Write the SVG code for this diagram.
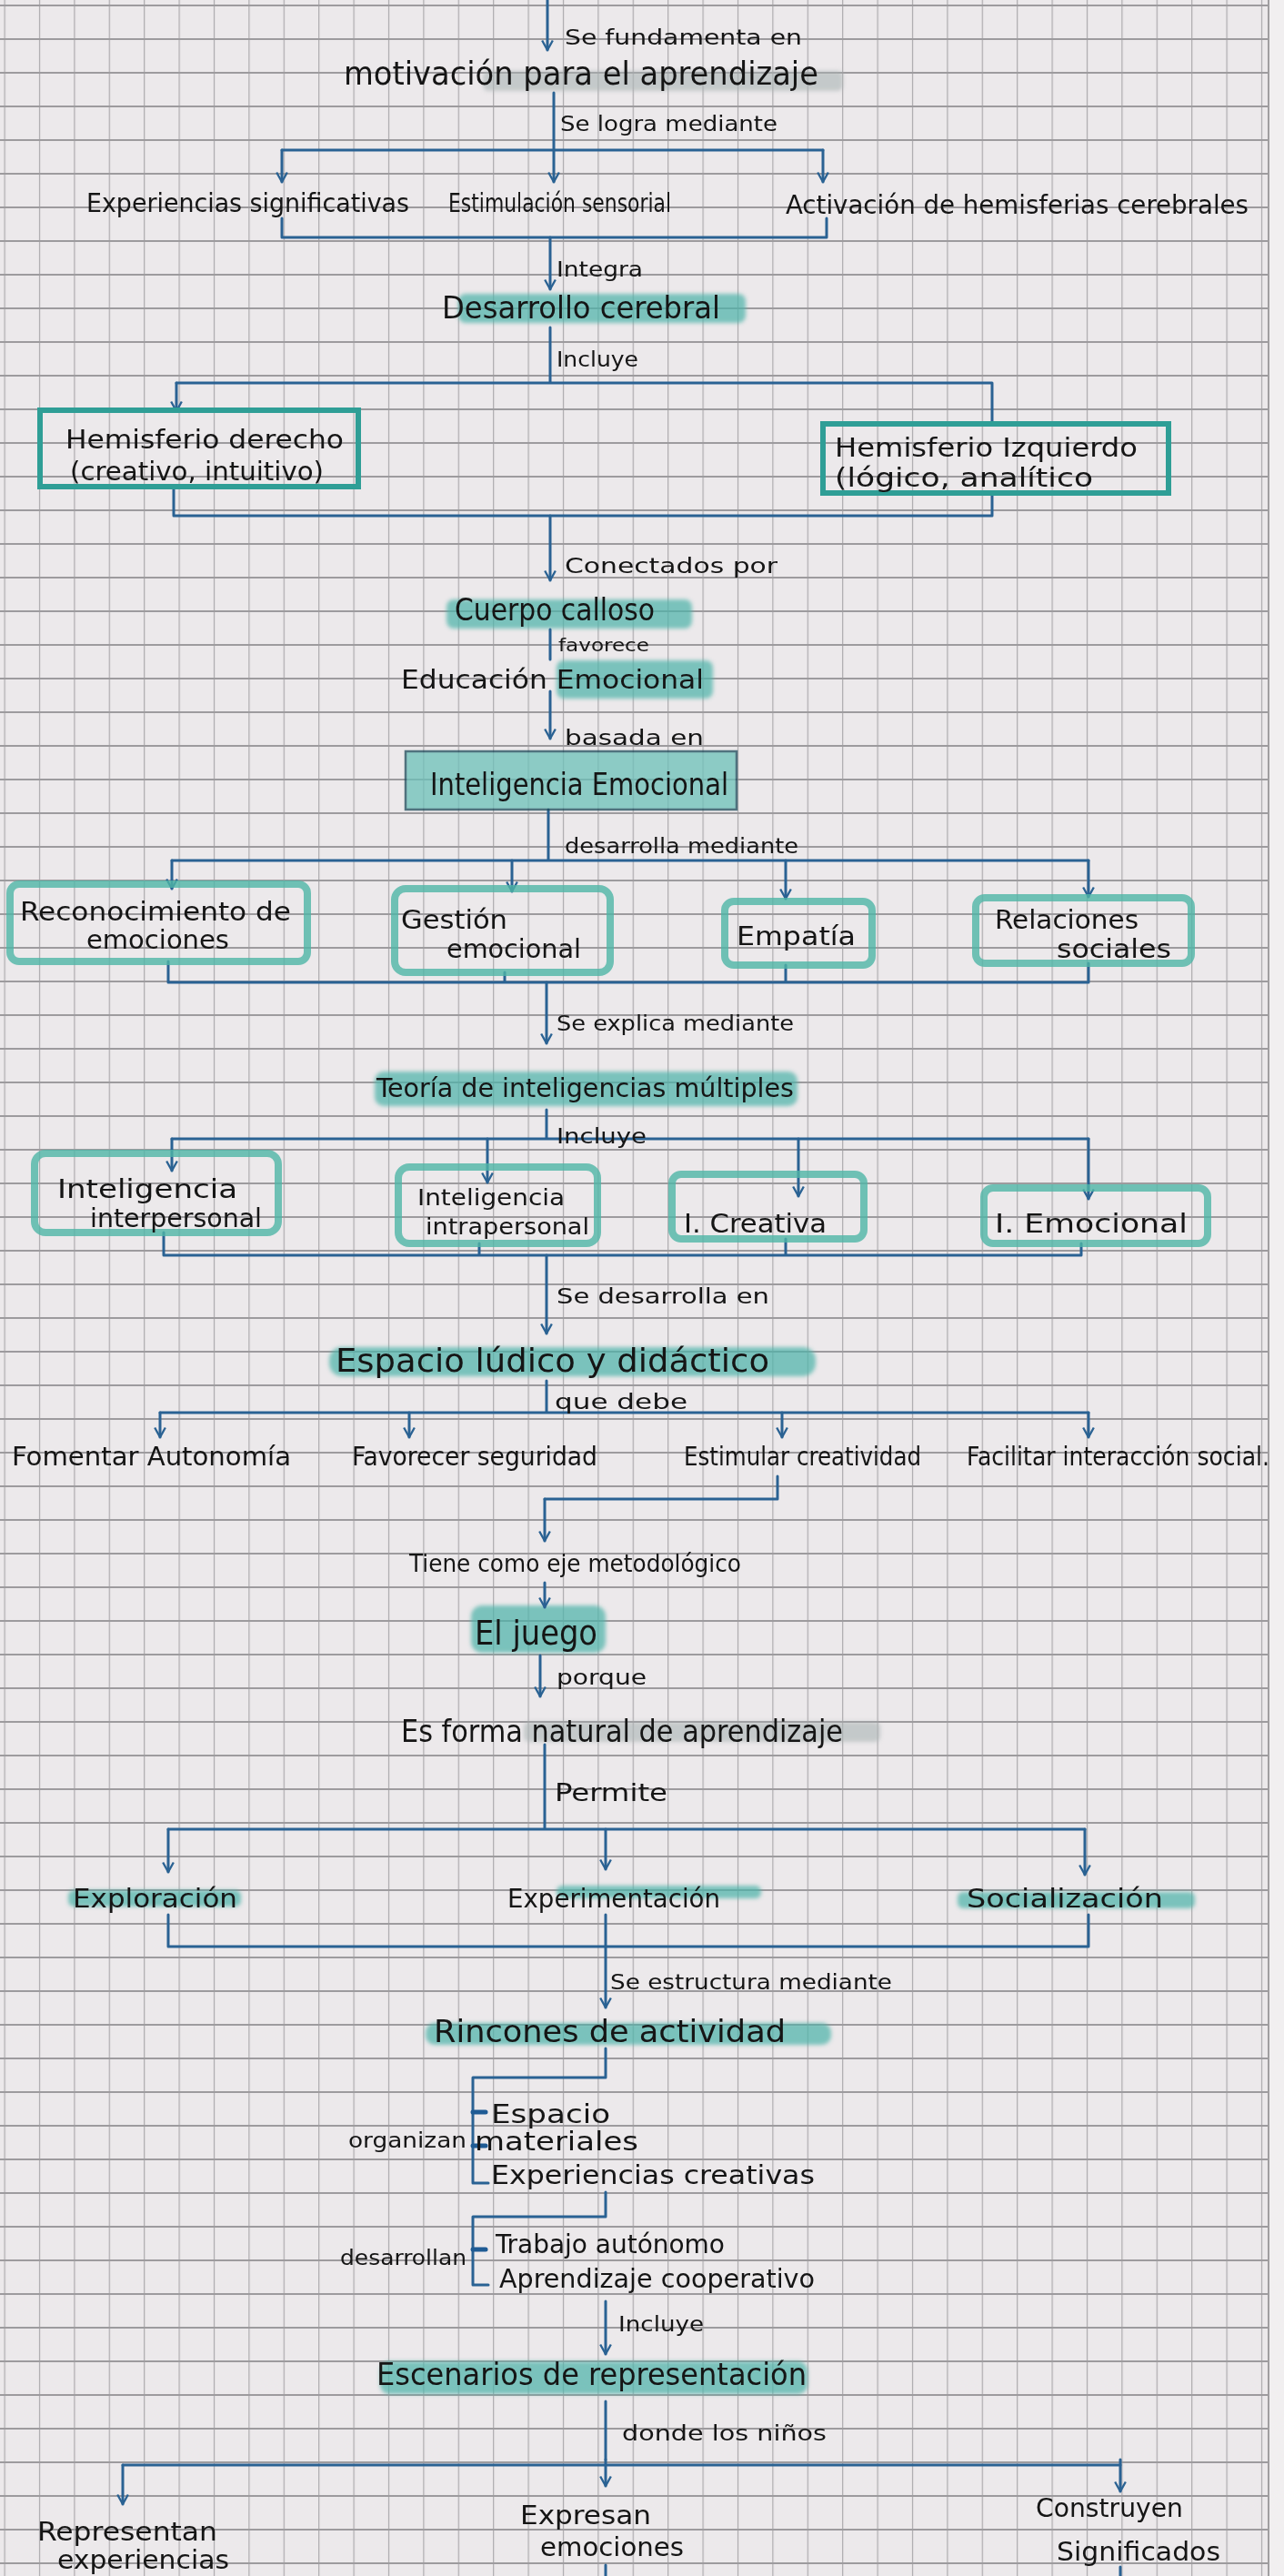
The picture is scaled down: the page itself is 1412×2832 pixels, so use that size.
<svg xmlns="http://www.w3.org/2000/svg" width="1412" height="2832" viewBox="0 0 1412 2832">
<style>
.t{font-family:"DejaVu Sans Condensed","DejaVu Sans","Liberation Sans",sans-serif;fill:#151515;}
.l{font-size:23px;}
.n{font-size:29px;}
.s{font-size:25px;}
.b{font-size:33px;}
.c{stroke:#2a6293;stroke-width:3;fill:none;stroke-linecap:round;stroke-linejoin:round;}
.a{marker-end:url(#arr);}
.hl{fill:#4fb3a9;opacity:0.72;}
.hg{fill:#aab4b4;opacity:0.6;}
.bx{fill:none;stroke:#4fb5a6;stroke-width:8;opacity:0.8;}
.bd{fill:none;stroke:#2f9e96;stroke-width:6;}
.tick{stroke:#1f5b94;stroke-width:5;}
</style>
<defs>
<pattern id="grid" patternUnits="userSpaceOnUse" width="38.4" height="37" patternTransform="translate(4.5,5)">
<rect width="38.4" height="37" fill="#ece9eb"/>
<line x1="0.6" y1="0" x2="0.6" y2="37" stroke="#acaaad" stroke-width="1.2"/>
<line x1="0" y1="1" x2="38.4" y2="1" stroke="#9d9b9e" stroke-width="1.8"/>
</pattern>
<marker id="arr" viewBox="0 0 12 12" refX="11" refY="6" markerWidth="14" markerHeight="14" markerUnits="userSpaceOnUse" orient="auto">
<path d="M2,1 L11,6 L2,11" fill="none" stroke="#2a6293" stroke-width="2"/>
</marker>
<filter id="soft" x="-5%" y="-20%" width="110%" height="140%"><feGaussianBlur stdDeviation="2"/></filter>
</defs>
<rect width="1412" height="2832" fill="url(#grid)"/>
<rect x="1395" y="0" width="17" height="2832" fill="#f1eff0"/>
<line x1="1395" y1="0" x2="1395" y2="2832" stroke="#a09ea0" stroke-width="2"/>

<g id="highlights" filter="url(#soft)">
<rect class="hg" x="531" y="78" width="396" height="22" rx="6"/>
<rect class="hl" x="504" y="323" width="316" height="32" rx="8"/>
<rect class="hl" x="491" y="659" width="270" height="32" rx="8"/>
<rect class="hl" x="612" y="726" width="172" height="42" rx="8"/>
<rect class="hl" x="412" y="1178" width="465" height="38" rx="10"/>
<rect class="hl" x="362" y="1481" width="535" height="32" rx="14"/>
<rect class="hl" x="518" y="1765" width="148" height="52" rx="12"/>
<rect class="hg" x="576" y="1893" width="392" height="22" rx="6"/>
<rect class="hl" x="75" y="2078" width="190" height="18" rx="6" opacity="0.45"/>
<rect class="hl" x="612" y="2073" width="225" height="14" rx="6" opacity="0.55"/>
<rect class="hl" x="1053" y="2080" width="261" height="18" rx="6" opacity="0.55"/>
<rect class="hl" x="468" y="2224" width="446" height="24" rx="10"/>
<rect class="hl" x="418" y="2596" width="470" height="36" rx="10"/>
</g>

<g id="connectors">
<path class="c a" d="M602,0 V55"/>
<path class="c" d="M609,102 V165 M310,165 H905"/>
<path class="c a" d="M310,165 V200"/>
<path class="c a" d="M609,165 V200"/>
<path class="c a" d="M905,165 V200"/>
<path class="c" d="M310,240 V261 H909 V240"/>
<path class="c a" d="M605,261 V318"/>
<path class="c" d="M605,360 V421 H1091 V466 M194,421 H605"/>
<path class="c a" d="M194,421 V452"/>
<path class="c" d="M191,536 V567 H1091 V542"/>
<path class="c a" d="M605,567 V638"/>
<path class="c" d="M605,692 V725"/>
<path class="c a" d="M605,760 V812"/>
<path class="c" d="M603,890 V946 M189,946 H1197"/>
<path class="c a" d="M189,946 V977"/>
<path class="c a" d="M563,946 V980"/>
<path class="c a" d="M864,946 V988"/>
<path class="c a" d="M1197,946 V986"/>
<path class="c" d="M185,1057 V1080 H1197 V1059 M555,1069 V1080 M864,1061 V1080"/>
<path class="c a" d="M601,1080 V1147"/>
<path class="c" d="M601,1220 V1252 M189,1252 H1197"/>
<path class="c a" d="M189,1252 V1287"/>
<path class="c a" d="M536,1252 V1300"/>
<path class="c a" d="M878,1252 V1315"/>
<path class="c a" d="M1197,1252 V1318"/>
<path class="c" d="M180,1355 V1380 H1189 V1367 M527,1367 V1380 M864,1362 V1380"/>
<path class="c a" d="M601,1380 V1466"/>
<path class="c" d="M601,1518 V1553 M176,1553 H1197"/>
<path class="c a" d="M176,1553 V1580"/>
<path class="c a" d="M450,1553 V1580"/>
<path class="c a" d="M860,1553 V1580"/>
<path class="c a" d="M1197,1553 V1580"/>
<path class="c" d="M855,1623 V1648 H599"/>
<path class="c a" d="M599,1648 V1694"/>
<path class="c a" d="M599,1740 V1767"/>
<path class="c a" d="M594,1820 V1865"/>
<path class="c" d="M599,1918 V2011 M185,2011 H1193"/>
<path class="c a" d="M185,2011 V2058"/>
<path class="c a" d="M666,2011 V2055"/>
<path class="c a" d="M1193,2011 V2061"/>
<path class="c" d="M185,2105 V2140 H1197 V2105 M666,2105 V2140"/>
<path class="c a" d="M666,2140 V2207"/>
<path class="c" d="M666,2252 V2284 H520 V2400 H537"/>
<path class="c tick" d="M520,2322 H534 M520,2359 H534"/>
<path class="c" d="M666,2410 V2437 H520 V2512 H537"/>
<path class="c tick" d="M520,2473 H534"/>
<path class="c a" d="M666,2530 V2588"/>
<path class="c" d="M666,2640 V2704 M135,2710 H1232"/>
<path class="c a" d="M135,2710 V2753"/>
<path class="c a" d="M666,2704 V2733"/>
<path class="c a" d="M1232,2704 V2739"/>
<path class="c" d="M666,2820 V2832 M1232,2822 V2832"/>
</g>

<g id="labels">
<text class="t l" x="621" y="49" textLength="261" lengthAdjust="spacingAndGlyphs">Se fundamenta en</text>
<text class="t l" x="616" y="144" textLength="239" lengthAdjust="spacingAndGlyphs">Se logra mediante</text>
<text class="t l" x="612" y="304" textLength="95" lengthAdjust="spacingAndGlyphs">Integra</text>
<text class="t l" x="612" y="403" textLength="90" lengthAdjust="spacingAndGlyphs">Incluye</text>
<text class="t l" x="621" y="630" textLength="234" lengthAdjust="spacingAndGlyphs">Conectados por</text>
<text class="t l" x="614" y="716" style="font-size:19px" textLength="100" lengthAdjust="spacingAndGlyphs">favorece</text>
<text class="t l" x="621" y="819" textLength="153" lengthAdjust="spacingAndGlyphs">basada en</text>
<text class="t l" x="621" y="938" textLength="257" lengthAdjust="spacingAndGlyphs">desarrolla mediante</text>
<text class="t l" x="612" y="1133" textLength="261" lengthAdjust="spacingAndGlyphs">Se explica mediante</text>
<text class="t l" x="612" y="1257" textLength="99" lengthAdjust="spacingAndGlyphs">Incluye</text>
<text class="t l" x="612" y="1433" textLength="234" lengthAdjust="spacingAndGlyphs">Se desarrolla en</text>
<text class="t l" x="610" y="1549" textLength="146" lengthAdjust="spacingAndGlyphs">que debe</text>
<text class="t l" x="612" y="1852" textLength="99" lengthAdjust="spacingAndGlyphs">porque</text>
<text class="t l" x="610" y="1980" style="font-size:26px" textLength="124" lengthAdjust="spacingAndGlyphs">Permite</text>
<text class="t l" x="671" y="2187" textLength="310" lengthAdjust="spacingAndGlyphs">Se estructura mediante</text>
<text class="t l" x="383" y="2361" textLength="130" lengthAdjust="spacingAndGlyphs">organizan</text>
<text class="t l" x="374" y="2490" textLength="139" lengthAdjust="spacingAndGlyphs">desarrollan</text>
<text class="t l" x="680" y="2563" textLength="94" lengthAdjust="spacingAndGlyphs">Incluye</text>
<text class="t l" x="684" y="2683" textLength="225" lengthAdjust="spacingAndGlyphs">donde los niños</text>
</g>

<g id="n-motivacion"><text class="t b" x="378" y="93" style="font-size:35px" textLength="522" lengthAdjust="spacingAndGlyphs">motivación para el aprendizaje</text></g>
<g id="n-experiencias"><text class="t n" x="95" y="233" textLength="355" lengthAdjust="spacingAndGlyphs">Experiencias significativas</text></g>
<g id="n-estimulacion"><text class="t n" x="493" y="233" textLength="245" lengthAdjust="spacingAndGlyphs">Estimulación sensorial</text></g>
<g id="n-activacion"><text class="t n" x="864" y="235" textLength="509" lengthAdjust="spacingAndGlyphs">Activación de hemisferias cerebrales</text></g>
<g id="n-desarrollo"><text class="t b" x="486" y="350" textLength="306" lengthAdjust="spacingAndGlyphs">Desarrollo cerebral</text></g>
<g id="n-hderecho">
<rect class="bd" x="44" y="451" width="350" height="84"/>
<text class="t n" x="72" y="493" textLength="306" lengthAdjust="spacingAndGlyphs">Hemisferio derecho</text>
<text class="t n" x="77" y="528" textLength="279" lengthAdjust="spacingAndGlyphs">(creativo, intuitivo)</text>
</g>
<g id="n-hizquierdo">
<rect class="bd" x="905" y="466" width="380" height="76"/>
<text class="t n" x="918" y="502" textLength="333" lengthAdjust="spacingAndGlyphs">Hemisferio Izquierdo</text>
<text class="t n" x="918" y="535" textLength="284" lengthAdjust="spacingAndGlyphs">(lógico, analítico</text>
</g>
<g id="n-cuerpo"><text class="t b" x="500" y="682" textLength="220" lengthAdjust="spacingAndGlyphs">Cuerpo calloso</text></g>
<g id="n-educacion"><text class="t n" x="441" y="757" textLength="333" lengthAdjust="spacingAndGlyphs">Educación Emocional</text></g>
<g id="n-ie">
<rect x="446" y="826" width="364" height="64" fill="#6cc0b8" opacity="0.75" stroke="#1d4a5a" stroke-width="2.5"/>
<text class="t b" x="473" y="874" textLength="328" lengthAdjust="spacingAndGlyphs">Inteligencia Emocional</text>
</g>
<g id="n-reconocimiento">
<rect class="bx" x="11" y="972" width="327" height="85" rx="10"/>
<text class="t n" x="22" y="1012" textLength="298" lengthAdjust="spacingAndGlyphs">Reconocimiento de</text>
<text class="t n" x="95" y="1043" textLength="157" lengthAdjust="spacingAndGlyphs">emociones</text>
</g>
<g id="n-gestion">
<rect class="bx" x="434" y="977" width="237" height="92" rx="12"/>
<text class="t n" x="441" y="1021" textLength="117" lengthAdjust="spacingAndGlyphs">Gestión</text>
<text class="t n" x="491" y="1053" textLength="148" lengthAdjust="spacingAndGlyphs">emocional</text>
</g>
<g id="n-empatia">
<rect class="bx" x="797" y="991" width="162" height="70" rx="10"/>
<text class="t n" x="810" y="1039" textLength="131" lengthAdjust="spacingAndGlyphs">Empatía</text>
</g>
<g id="n-relaciones">
<rect class="bx" x="1073" y="987" width="237" height="72" rx="10"/>
<text class="t n" x="1094" y="1021" textLength="158" lengthAdjust="spacingAndGlyphs">Relaciones</text>
<text class="t n" x="1162" y="1053" textLength="126" lengthAdjust="spacingAndGlyphs">sociales</text>
</g>
<g id="n-teoria"><text class="t n" x="414" y="1206" textLength="459" lengthAdjust="spacingAndGlyphs">Teoría de inteligencias múltiples</text></g>
<g id="n-interpersonal">
<rect class="bx" x="38" y="1268" width="268" height="87" rx="12"/>
<text class="t n" x="63" y="1317" textLength="198" lengthAdjust="spacingAndGlyphs">Inteligencia</text>
<text class="t n" x="99" y="1349" textLength="189" lengthAdjust="spacingAndGlyphs">interpersonal</text>
</g>
<g id="n-intrapersonal">
<rect class="bx" x="438" y="1283" width="219" height="84" rx="12"/>
<text class="t s" x="459" y="1325" textLength="162" lengthAdjust="spacingAndGlyphs">Inteligencia</text>
<text class="t s" x="468" y="1357" textLength="180" lengthAdjust="spacingAndGlyphs">intrapersonal</text>
</g>
<g id="n-creativa">
<rect class="bx" x="739" y="1291" width="211" height="71" rx="10"/>
<text class="t n" x="752" y="1355" textLength="157" lengthAdjust="spacingAndGlyphs">I. Creativa</text>
</g>
<g id="n-iemocional">
<rect class="bx" x="1082" y="1306" width="246" height="61" rx="10"/>
<text class="t n" x="1094" y="1355" textLength="212" lengthAdjust="spacingAndGlyphs">I. Emocional</text>
</g>
<g id="n-espacio"><text class="t b" x="369" y="1508" style="font-size:35px" textLength="477" lengthAdjust="spacingAndGlyphs">Espacio lúdico y didáctico</text></g>
<g id="n-fomentar"><text class="t n" x="13" y="1611" textLength="307" lengthAdjust="spacingAndGlyphs">Fomentar Autonomía</text></g>
<g id="n-favorecer"><text class="t n" x="387" y="1611" textLength="270" lengthAdjust="spacingAndGlyphs">Favorecer seguridad</text></g>
<g id="n-estimular"><text class="t n" x="752" y="1611" textLength="261" lengthAdjust="spacingAndGlyphs">Estimular creatividad</text></g>
<g id="n-facilitar"><text class="t n" x="1063" y="1611" textLength="333" lengthAdjust="spacingAndGlyphs">Facilitar interacción social.</text></g>
<g id="n-tiene"><text class="t n" x="450" y="1728" style="font-size:27px" textLength="365" lengthAdjust="spacingAndGlyphs">Tiene como eje metodológico</text></g>
<g id="n-juego"><text class="t b" x="522" y="1808" style="font-size:38px" textLength="135" lengthAdjust="spacingAndGlyphs">El juego</text></g>
<g id="n-forma"><text class="t b" x="441" y="1915" textLength="486" lengthAdjust="spacingAndGlyphs">Es forma natural de aprendizaje</text></g>
<g id="n-exploracion"><text class="t n" x="80" y="2097" textLength="181" lengthAdjust="spacingAndGlyphs">Exploración</text></g>
<g id="n-experimentacion"><text class="t n" x="558" y="2097" textLength="234" lengthAdjust="spacingAndGlyphs">Experimentación</text></g>
<g id="n-socializacion"><text class="t n" x="1063" y="2097" textLength="216" lengthAdjust="spacingAndGlyphs">Socialización</text></g>
<g id="n-rincones"><text class="t b" x="477" y="2245" textLength="387" lengthAdjust="spacingAndGlyphs">Rincones de actividad</text></g>
<g id="n-espacio2"><text class="t n" x="540" y="2334" textLength="131" lengthAdjust="spacingAndGlyphs">Espacio</text></g>
<g id="n-materiales"><text class="t n" x="522" y="2364" textLength="180" lengthAdjust="spacingAndGlyphs">materiales</text></g>
<g id="n-expcreativas"><text class="t n" x="540" y="2401" textLength="356" lengthAdjust="spacingAndGlyphs">Experiencias creativas</text></g>
<g id="n-trabajo"><text class="t n" x="545" y="2477" textLength="252" lengthAdjust="spacingAndGlyphs">Trabajo autónomo</text></g>
<g id="n-aprendizaje"><text class="t n" x="549" y="2515" textLength="347" lengthAdjust="spacingAndGlyphs">Aprendizaje cooperativo</text></g>
<g id="n-escenarios"><text class="t b" x="414" y="2622" textLength="473" lengthAdjust="spacingAndGlyphs">Escenarios de representación</text></g>
<g id="n-representan">
<text class="t n" x="41" y="2793" textLength="198" lengthAdjust="spacingAndGlyphs">Representan</text>
<text class="t n" x="63" y="2824" textLength="189" lengthAdjust="spacingAndGlyphs">experiencias</text>
</g>
<g id="n-expresan">
<text class="t n" x="572" y="2775" textLength="144" lengthAdjust="spacingAndGlyphs">Expresan</text>
<text class="t n" x="594" y="2810" textLength="158" lengthAdjust="spacingAndGlyphs">emociones</text>
</g>
<g id="n-construyen">
<text class="t n" x="1139" y="2767" textLength="162" lengthAdjust="spacingAndGlyphs">Construyen</text>
<text class="t n" x="1162" y="2815" textLength="180" lengthAdjust="spacingAndGlyphs">Significados</text>
</g>
</svg>
